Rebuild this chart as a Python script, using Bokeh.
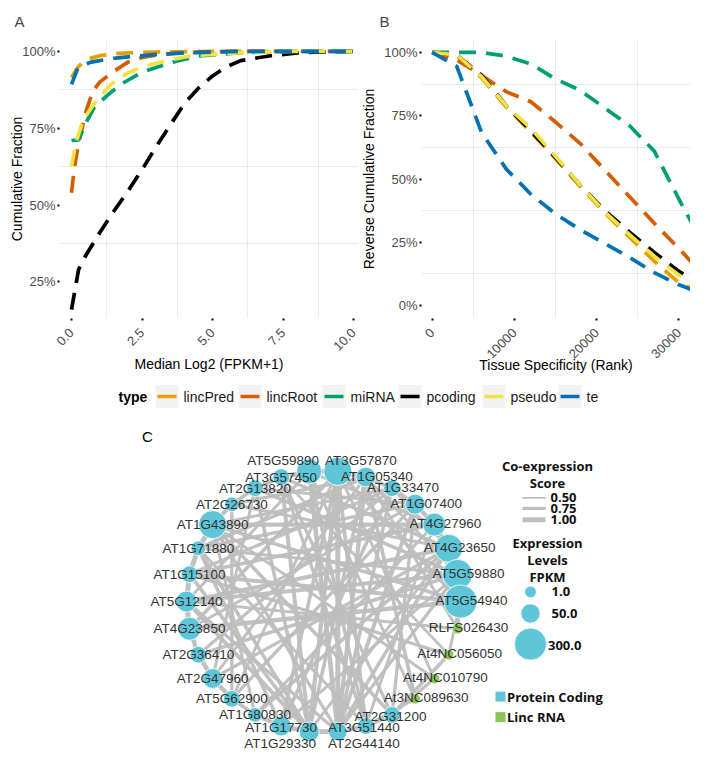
import math
import numpy as np
from bokeh.plotting import figure
from bokeh.models import Range1d, FixedTicker
from bokeh.layouts import column, row
from bokeh.embed import file_html
from bokeh.resources import INLINE
from bokeh.core.properties import value

# ---------------- data ----------------
types = ["lincPred", "lincRoot", "miRNA", "pcoding", "pseudo", "te"]
type_colors = ["#E69F00", "#D55E00", "#009E73", "#000000", "#F0E442", "#0072B2"]

# Panel A: cumulative fraction vs median log2(FPKM+1)
a_lincPred_x = [0, 0.2, 0.4, 0.7, 1.0, 1.5, 2.0, 3.0, 4.0, 5.0, 6.0, 8.0, 10.0]
a_lincPred_y = [0.915, 0.945, 0.965, 0.978, 0.986, 0.992, 0.995, 0.998, 0.999, 1.0, 1.0, 1.0, 1.0]
a_lincRoot_x = [0, 0.1, 0.25, 0.5, 0.75, 1.0, 1.5, 2.0, 2.5, 3.0, 4.0, 5.0, 6.0, 8.0, 10.0]
a_lincRoot_y = [0.54, 0.62, 0.70, 0.80, 0.87, 0.90, 0.935, 0.965, 0.98, 0.988, 0.996, 0.999, 1.0, 1.0, 1.0]
a_miRNA_x = [0, 0.25, 0.5, 0.8, 1.25, 1.75, 2.5, 3.5, 4.5, 6.0, 8.0, 10.0]
a_miRNA_y = [0.71, 0.712, 0.765, 0.817, 0.855, 0.893, 0.932, 0.963, 0.985, 0.996, 1.0, 1.0]
a_pcoding_x = [0, 0.25, 0.5, 1, 1.5, 2, 2.5, 3, 3.5, 4, 4.5, 5, 5.5, 6, 7, 8, 9, 10]
a_pcoding_y = [0.16, 0.29, 0.335, 0.41, 0.48, 0.545, 0.615, 0.69, 0.76, 0.83, 0.88, 0.92, 0.95, 0.97, 0.985, 0.995, 0.998, 1.0]
a_pseudo_x = [0, 0.15, 0.4, 0.8, 1.4, 2.0, 2.6, 3.4, 4.2, 6.0, 8.0, 10.0]
a_pseudo_y = [0.625, 0.70, 0.775, 0.83, 0.893, 0.93, 0.952, 0.97, 0.985, 0.996, 1.0, 1.0]
a_te_x = [0, 0.2, 0.4, 0.7, 1.0, 1.5, 2.0, 3.0, 4.0, 5.0, 6.0, 8.0, 10.0]
a_te_y = [0.893, 0.94, 0.955, 0.965, 0.97, 0.977, 0.982, 0.99, 0.995, 0.998, 1.0, 1.0, 1.0]

a_x_ticks = [0, 2.5, 5.0, 7.5, 10.0]
a_x_labels = ["0.0", "2.5", "5.0", "7.5", "10.0"]
a_y_ticks = [0.25, 0.5, 0.75, 1.0]
a_y_labels = ["25%", "50%", "75%", "100%"]

# Panel B: reverse cumulative fraction vs tissue specificity rank
b_x = [0, 3000, 6000, 9000, 12000, 15000, 18000, 21000, 24000, 27000, 30000, 33000, 33100]
b_lincPred_y = [1.0, 0.985, 0.90, 0.785, 0.685, 0.58, 0.47, 0.365, 0.27, 0.175, 0.09, 0.045, 0.02]
b_lincRoot_y = [1.0, 0.97, 0.91, 0.845, 0.805, 0.725, 0.64, 0.535, 0.43, 0.325, 0.225, 0.12, 0.03]
b_miRNA_y = [1.0, 1.0, 1.0, 0.985, 0.955, 0.895, 0.85, 0.78, 0.71, 0.61, 0.42, 0.24, 0.08]
b_pcoding_y = [1.0, 0.99, 0.91, 0.79, 0.69, 0.585, 0.475, 0.375, 0.29, 0.21, 0.135, 0.075, 0.05]
b_pseudo_y = [1.0, 0.99, 0.905, 0.79, 0.70, 0.59, 0.475, 0.37, 0.28, 0.195, 0.12, 0.065, 0.04]
b_te_y = [1.0, 0.945, 0.685, 0.54, 0.44, 0.362, 0.30, 0.245, 0.19, 0.13, 0.082, 0.045, 0.0]

b_x_ticks = [0, 10000, 20000, 30000]
b_x_labels = ["0", "10000", "20000", "30000"]
b_y_ticks = [0.0, 0.25, 0.5, 0.75, 1.0]
b_y_labels = ["0%", "25%", "50%", "75%", "100%"]

# Panel C: co-expression network (circular layout order)
gene_names = ["AT3G57870", "AT1G05340", "AT1G33470", "AT1G07400", "AT4G27960", "AT4G23650",
              "AT5G59880", "AT5G54940", "RLFS026430", "At4NC056050", "At4NC010790", "At3NC089630",
              "AT2G31200", "AT3G51440", "AT2G44140", "AT1G29330", "AT1G17730", "AT1G80830",
              "AT5G62900", "AT2G47960", "AT2G36410", "AT4G23850", "AT5G12140", "AT1G15100",
              "AT1G71880", "AT1G43890", "AT2G26730", "AT2G13820", "AT3G57450", "AT5G59890"]
gene_fpkm = [200, 55, 25, 58, 100, 196, 243, 324, 0, 0, 0, 0,
             25, 25, 43, 58, 58, 11, 25, 58, 25, 100, 70, 25, 11, 196, 11, 25, 25, 135]
gene_type = ["Protein Coding"] * 8 + ["Linc RNA"] * 4 + ["Protein Coding"] * 18

edge_from = [29, 28, 27, 26, 25, 24, 23, 22, 21, 20, 19, 18, 17, 16, 15, 14, 13, 0, 1, 2, 3, 4, 5, 6, 7, 29,
             14, 14, 14, 15, 15, 14, 15, 13, 12, 16, 14, 15,
             22, 22, 23, 21, 24, 25, 20, 19, 26, 27, 23, 25, 24,
             17, 18, 16, 19, 21, 22, 20, 18,
             8, 9, 10, 11, 8, 9, 10, 11, 9, 10, 8, 9, 11,
             12, 13, 12, 13, 16, 17, 15, 14, 16, 17, 18, 19,
             21, 23, 24, 25, 26, 27, 28, 29, 0, 1, 2,
             14, 14, 15, 15, 14, 15, 13, 13]
edge_to = [28, 27, 26, 25, 24, 23, 22, 21, 20, 19, 18, 17, 16, 15, 14, 13, 12, 1, 2, 3, 4, 5, 6, 7, 8, 0,
           0, 29, 1, 0, 28, 2, 1, 29, 28, 0, 3, 27,
           5, 6, 4, 7, 3, 4, 6, 5, 5, 6, 7, 7, 6,
           4, 3, 2, 1, 0, 29, 2, 0,
           22, 23, 0, 1, 1, 28, 25, 29, 12, 12, 6, 7, 13,
           25, 24, 3, 4, 6, 5, 23, 22, 24, 25, 26, 27,
           3, 2, 1, 2, 1, 3, 5, 4, 7, 6, 5,
           5, 6, 24, 22, 25, 5, 0, 28]
edge_score = [1.0, 0.9, 0.8, 0.9, 1.0, 1.0, 1.0, 1.0, 0.9, 0.95, 0.9, 0.8, 0.85, 1.0, 1.0, 0.9, 0.85, 0.9, 0.8, 0.85, 0.9, 1.0, 0.95, 1.0, 0.7, 0.95,
              1.0, 0.95, 0.9, 0.9, 0.85, 0.8, 0.8, 0.8, 0.75, 0.8, 0.85, 0.8,
              0.9, 0.85, 0.8, 0.95, 0.75, 0.9, 0.8, 0.75, 0.7, 0.8, 0.85, 0.8, 0.7,
              0.7, 0.75, 0.8, 0.7, 0.8, 0.7, 0.75, 0.7,
              0.7, 0.75, 0.7, 0.8, 0.7, 0.65, 0.7, 0.7, 0.8, 0.75, 0.8, 0.7, 0.7,
              0.8, 0.7, 0.75, 0.7, 0.7, 0.8, 0.8, 0.75, 0.8, 0.7, 0.75, 0.7,
              0.7, 0.75, 0.8, 0.7, 0.75, 0.7, 0.75, 0.7, 0.8, 0.7, 0.65,
              0.8, 0.75, 0.8, 0.85, 0.75, 0.7, 0.8, 0.75]

score_legend = [0.50, 0.75, 1.00]
score_legend_labels = ["0.50", "0.75", "1.00"]
fpkm_legend = [1.0, 50.0, 300.0]
fpkm_legend_labels = ["1.0", "50.0", "300.0"]
node_types = ["Protein Coding", "Linc RNA"]

# ---------------- styles / layout ----------------
FONT = "Liberation Sans"
BOLD_FONT = "Open Sans"
NODE_COL = {"Protein Coding": "#5EC6D8", "Linc RNA": "#8CC55A"}
EDGE_COL = "#BEBEBE"
DASH = "17 10"


def node_size(v):
    return 10.5 + 1.25 * np.sqrt(np.asarray(v, dtype=float))


def edge_width(s):
    return 6.4 * np.asarray(s, dtype=float) - 1.5


def style_curve_fig(p, xt, xl, yt, yl, xgrid, ygrid, xtitle, ytitle, panel):
    p.outline_line_color = None
    p.background_fill_color = "white"
    p.border_fill_color = "white"
    p.title.text = panel
    p.title.align = "left"
    p.title.text_font = FONT
    p.title.text_font_size = "15px"
    p.title.text_font_style = "normal"
    p.title.standoff = 20
    p.xaxis.ticker = FixedTicker(ticks=xt)
    p.xaxis.major_label_overrides = {t: l for t, l in zip(xt, xl)}
    p.yaxis.ticker = FixedTicker(ticks=yt)
    p.yaxis.major_label_overrides = {t: l for t, l in zip(yt, yl)}
    for ax in (p.xaxis[0], p.yaxis[0]):
        ax.axis_line_color = None
        ax.major_tick_line_color = "black"
        ax.major_tick_line_width = 2
        ax.major_tick_out = 2
        ax.major_tick_in = 0
        ax.minor_tick_line_color = None
        ax.major_label_text_font = FONT
        ax.major_label_text_font_size = "13px"
        ax.major_label_text_color = "#4D4D4D"
        ax.axis_label_text_font = FONT
        ax.axis_label_text_font_size = "14px"
        ax.axis_label_text_font_style = "normal"
        ax.axis_label_text_color = "black"
        ax.axis_label_standoff = 0
    p.xaxis.major_label_orientation = math.pi / 4
    p.xaxis.major_label_standoff = 10
    p.yaxis.major_label_standoff = 2
    p.xaxis.axis_label = xtitle
    p.yaxis.axis_label = ytitle
    p.xgrid.ticker = FixedTicker(ticks=xgrid)
    p.ygrid.ticker = FixedTicker(ticks=ygrid)
    p.grid.grid_line_color = "#EBEBEB"
    p.grid.grid_line_width = 1


# ---------------- Panel A ----------------
pA = figure(width=358, height=383, x_range=Range1d(-0.426, 10.177), y_range=Range1d(0.131, 1.0386),
            output_backend="svg", toolbar_location=None,
            min_border_left=59, min_border_right=0, min_border_top=38, min_border_bottom=63)
style_curve_fig(pA, a_x_ticks, a_x_labels, a_y_ticks, a_y_labels,
                [1.25, 3.75, 6.25, 8.75], [0.375, 0.625, 0.875],
                "Median Log2 (FPKM+1)", "Cumulative Fraction", "A")
pA.title.offset = -45
pA.xaxis.axis_label_standoff = -2
pA.yaxis.axis_label_standoff = -6
a_series = [(a_lincPred_x, a_lincPred_y), (a_lincRoot_x, a_lincRoot_y), (a_miRNA_x, a_miRNA_y),
            (a_pcoding_x, a_pcoding_y), (a_pseudo_x, a_pseudo_y), (a_te_x, a_te_y)]
for (xs, ys), col in zip(a_series, type_colors):
    pA.line(xs, ys, line_color=col, line_width=3.7, line_dash=DASH)

# ---------------- Panel B ----------------
pB = figure(width=332, height=383, x_range=Range1d(-1284, 31400), y_range=Range1d(-0.051, 1.051),
            output_backend="svg", toolbar_location=None,
            min_border_left=52, min_border_right=0, min_border_top=38, min_border_bottom=65)
style_curve_fig(pB, b_x_ticks, b_x_labels, b_y_ticks, b_y_labels,
                [5000, 15000, 25000], [0.125, 0.375, 0.625, 0.875],
                "Tissue Specificity (Rank)", "Reverse Cumulative Fraction", "B")
pB.title.offset = -42
pB.xaxis.axis_label_standoff = -8
pB.yaxis.axis_label_standoff = 4
for ys, col in zip([b_lincPred_y, b_lincRoot_y, b_miRNA_y, b_pcoding_y, b_pseudo_y, b_te_y], type_colors):
    pB.line(b_x, ys, line_color=col, line_width=3.7, line_dash=DASH)

# ---------------- shared legend ----------------
pL = figure(width=690, height=26, x_range=Range1d(0, 690), y_range=Range1d(409, 383),
            output_backend="svg", toolbar_location=None, min_border=0,
            x_axis_location=None, y_axis_location=None)
pL.outline_line_color = None
pL.grid.visible = False
leg_title_x = 118
leg_key_left = [155, 238, 322, 398, 482, 558]
leg_key_w = 23
leg_cy = 396
pL.text([leg_title_x], [leg_cy], text=["type"], text_font=value(FONT), text_font_size="14px",
        text_font_style="bold", text_baseline="middle", text_align="left", text_color="black")
kl = np.array(leg_key_left, dtype=float)
pL.quad(left=kl, right=kl + leg_key_w, top=leg_cy - 11.5, bottom=leg_cy + 11.5,
        fill_color="#F2F2F2", line_color=None)
pL.segment(x0=kl + 2, y0=[leg_cy] * 6, x1=kl + leg_key_w - 2, y1=[leg_cy] * 6,
           line_color=type_colors, line_width=3.5)
pL.text(kl + leg_key_w + 5, [leg_cy] * 6, text=types, text_font=value(FONT), text_font_size="14px",
        text_baseline="middle", text_align="left", text_color="#1A1A1A")

# ---------------- Panel C ----------------
pC = figure(width=690, height=342, x_range=Range1d(0, 690), y_range=Range1d(767, 409),
            output_backend="svg", toolbar_location=None, min_border=0,
            x_axis_location=None, y_axis_location=None)
pC.outline_line_color = None
pC.grid.visible = False

cx, cy, rad = 323.0, 610.0, 137.0
n = len(gene_names)
ang = np.radians(6.0 + 360.0 / n * np.arange(n))
nx = cx + rad * np.sin(ang)
ny = cy - rad * np.cos(ang)

ef = np.array(edge_from)
et = np.array(edge_to)
pC.segment(x0=nx[ef], y0=ny[ef], x1=nx[et], y1=ny[et], line_color=EDGE_COL,
           line_width=edge_width(edge_score), line_alpha=0.95)
pC.scatter(nx, ny, size=node_size(gene_fpkm), fill_color=[NODE_COL[t] for t in gene_type],
           line_color="white", line_width=0.8)

# label offsets (layout only)
lab_dx = np.zeros(n)
lab_dy = np.zeros(n)
lab_dx[1:12] = 11
lab_dy[1:12] = -1
lab_dx[0], lab_dy[0] = 23, -11
lab_dx[29], lab_dy[29] = -26, -11
lab_dx[14], lab_dy[14] = 26, 12
lab_dx[15], lab_dy[15] = -29, 12
lab_dx[12], lab_dy[12] = -1.5, 1.5
lab_dx[13], lab_dy[13] = -2, 2
lab_dy[16] = 2
pC.text(nx + lab_dx, ny + lab_dy, text=gene_names, text_font=value(FONT), text_font_size="13.5px",
        text_align="center", text_baseline="middle", text_color="#333333")

pC.text([147], [437], text=["C"], text_font=value(FONT), text_font_size="15px",
        text_align="center", text_baseline="middle", text_color="black")

# legend: co-expression score
leg_x = 547
pC.text([leg_x, leg_x], [468, 486], text=["Co-expression", "Score"], text_font=value(BOLD_FONT),
        text_font_size="13px", text_font_style="bold", text_align="center", text_baseline="middle",
        text_color="#111111")
sc_y = np.array([501.5, 512.5, 524.5])
pC.segment(x0=[522] * 3, y0=sc_y, x1=[545] * 3, y1=sc_y, line_color=EDGE_COL,
           line_width=edge_width(score_legend))
pC.text([550] * 3, sc_y, text=score_legend_labels, text_font=value(BOLD_FONT), text_font_size="13px",
        text_font_style="bold", text_align="left", text_baseline="middle", text_color="#111111")

# legend: expression levels
pC.text([leg_x] * 3, [549, 567, 584], text=["Expression", "Levels", "FPKM"], text_font=value(BOLD_FONT),
        text_font_size="13px", text_font_style="bold", text_align="center", text_baseline="middle",
        text_color="#111111")
fk_y = np.array([600, 622.5, 654.5])
pC.scatter([530] * 3, fk_y, size=node_size(fpkm_legend), fill_color=NODE_COL["Protein Coding"],
           line_color="white", line_width=0.8)
pC.text([551, 551, 547.5], fk_y + np.array([0, 0, 1.5]), text=fpkm_legend_labels, text_font=value(BOLD_FONT),
        text_font_size="13px", text_font_style="bold", text_align="left", text_baseline="middle",
        text_color="#111111")

# legend: node type
nt_y = np.array([709.5, 731])
pC.scatter([500, 500], nt_y, marker="square", size=10,
           fill_color=[NODE_COL[t] for t in node_types], line_color=None)
pC.text([506.5, 506.5], nt_y, text=node_types, text_font=value(BOLD_FONT), text_font_size="13px",
        text_font_style="bold", text_align="left", text_baseline="middle", text_color="#111111")

layout = column(row(pA, pB, spacing=0), pL, pC, spacing=0)
open("out.html", "w").write(file_html(layout, INLINE))
